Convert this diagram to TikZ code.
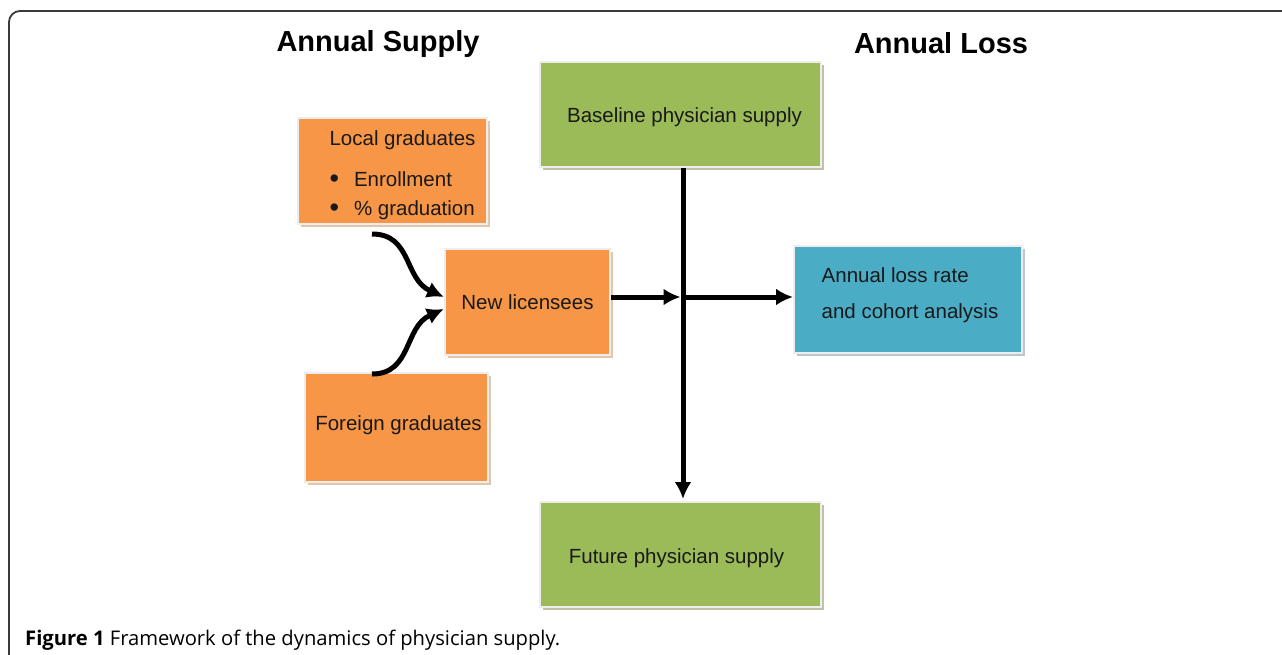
\documentclass[tikz,border=0pt]{standalone}
\usepackage{fontspec}
\setmainfont{Liberation Sans}
\newfontfamily\capfont{Open Sans}
\usepackage{tikz}
\usetikzlibrary{calc,positioning,arrows.meta,shadows}
\definecolor{supplyorange}{HTML}{F79646}
\definecolor{stockgreen}{HTML}{9BBB59}
\definecolor{lossblue}{HTML}{4BACC6}
\definecolor{frameline}{HTML}{3A3A3A}
\newcommand{\bigdot}{\raisebox{-1.5pt}{\fontsize{27}{27}\selectfont\textbullet}}
\newcommand{\nudge}[2]{\raisebox{#1}[\height][\depth]{#2}}
\tikzstyle{block} = [draw=white!93!black,line width=2pt,inner sep=0pt,text=black!90,font=\fontsize{20.5}{25}\selectfont]
\tikzstyle{supply} = [block,fill=supplyorange,drop shadow={shadow xshift=3pt,shadow yshift=-3pt,fill=brown!45!white,opacity=1}]
\tikzstyle{stock} = [block,fill=stockgreen,minimum width=281pt,minimum height=105pt,drop shadow={shadow xshift=3pt,shadow yshift=-3pt,fill=olive!25!gray!55!white,opacity=1}]
\tikzstyle{loss} = [block,fill=lossblue,drop shadow={shadow xshift=3pt,shadow yshift=-3pt,fill=cyan!20!gray!55!white,opacity=1}]
\tikzstyle{heading} = [font=\fontsize{29}{34}\selectfont\bfseries]
\tikzstyle{flow} = [line width=5pt,arrows={-Latex[length=17pt,width=17pt]}]

\begin{document}
\begin{tikzpicture}[x=1pt,y=-1pt]
			      \useasboundingbox (0,0) rectangle (1282,654);
			      \draw[frameline,line width=1.8pt,rounded corners=11pt] (9,11) rectangle (1300,680);

			      \node (ttlsupply)[heading] at (378,44) {Annual Supply};
			      \node (ttlloss)[heading] at (941,43) {Annual Loss};

			      \node (local)[supply,minimum width=189pt,minimum height=106pt] at (392.5,171) {\hspace*{20pt}\nudge{-4pt}{\begin{tabular}{@{}l@{}}Local graduates\\[16pt]\bigdot\hspace{15pt}Enrollment\\[4pt]\bigdot\hspace{15pt}\% graduation\end{tabular}}};
			      \node (newlic)[supply,minimum width=165pt,minimum height=106pt] at (527.5,302) {New licensees};
			      \node (foreign)[supply,minimum width=183pt,minimum height=109pt] at (396.5,427.5) {\hspace*{4pt}\nudge{2pt}{Foreign graduates}};
			      \node (base)[stock] at (680.5,114.5) {\hspace*{8pt}\nudge{-3pt}{Baseline physician supply}};
			      \node (loss)[loss,minimum width=228pt,minimum height=107pt] at (908,299.5) {\hspace*{4pt}\nudge{4pt}{\begin{tabular}{@{}l@{}}Annual loss rate\\[11pt]and cohort analysis\end{tabular}}};
			      \node (future)[stock] at (680.5,554.5) {\hspace*{-8pt}\nudge{-4pt}{Future physician supply}};
			      \coordinate (hub) at (683,297);

			      \draw[flow] ([xshift=-20.5pt,yshift=-9pt]local.south) .. controls +(40,0) and +(-40,-18) .. ([yshift=5pt]newlic.west);
			      \draw[flow] ([xshift=-24.5pt,yshift=-2pt]foreign.north) .. controls +(40,0) and +(-40,18) .. ([yshift=-7pt]newlic.west);
			      \draw[flow] (newlic.east |- hub) -- ([xshift=-2.5pt]hub);
			      \draw[flow] (hub) -- (loss.west |- hub);
			      \draw[flow] (base.south -| hub) -- ([yshift=2pt]future.north -| hub);

			      \node (caption)[anchor=west,inner sep=0pt,font=\capfont\fontsize{20.2}{23}\selectfont] at (25,640) {\textbf{Figure 1} Framework of the dynamics of physician supply.};
		      \end{tikzpicture}
\end{document}
